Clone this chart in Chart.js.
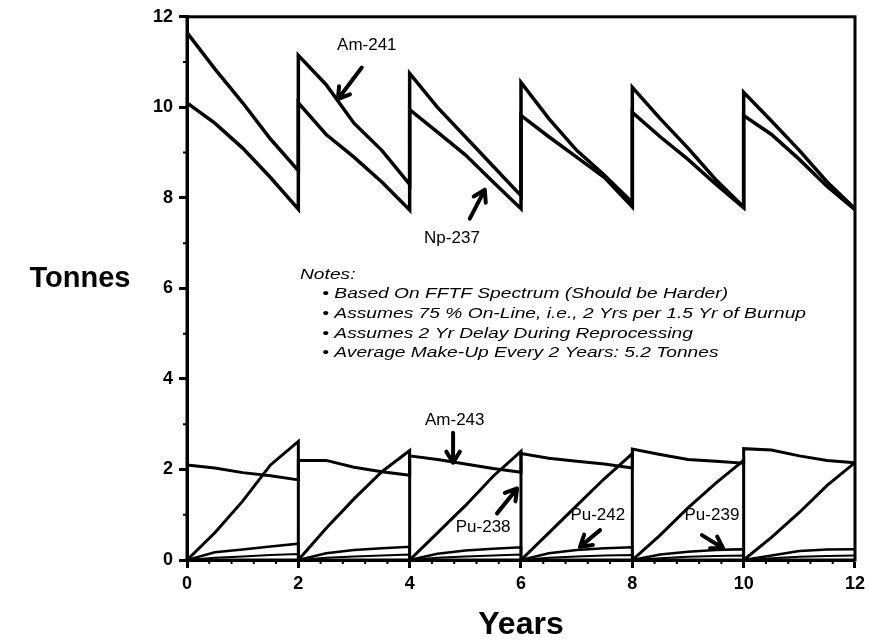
<!DOCTYPE html>
<html>
<head>
<meta charset="utf-8">
<script src="https://cdn.jsdelivr.net/npm/chart.js@4"></script>
<style>
  html, body { margin: 0; padding: 0; background: #fff; }
</style>
</head>
<body>
<canvas id="chart" width="870" height="642"></canvas>
<script>
// x positions shared by all series (each cycle restarts at the same year -> vertical jump)
const years = [0, 0.5, 1, 1.5, 2, 2, 2.5, 3, 3.5, 4, 4, 4.5, 5, 5.5, 6,
  6, 6.5, 7, 7.5, 8, 8, 8.5, 9, 9.5, 10, 10, 10.5, 11, 11.5, 12];

const am241 = [11.65, 10.85, 10.1, 9.3, 8.6, 11.15, 10.5, 9.65, 9.05, 8.3,
  10.75, 10.0, 9.35, 8.7, 8.05, 10.55, 9.75, 9.05, 8.5, 7.9,
  10.44, 9.75, 9.1, 8.4, 7.8, 10.33, 9.7, 9.05, 8.35, 7.76];
const np237 = [10.1, 9.65, 9.1, 8.45, 7.75, 10.1, 9.4, 8.9, 8.35, 7.73,
  9.95, 9.45, 8.95, 8.35, 7.76, 9.82, 9.35, 8.9, 8.45, 7.8,
  9.89, 9.35, 8.85, 8.3, 7.78, 9.82, 9.4, 8.85, 8.25, 7.74];
const am243 = [2.1, 2.03, 1.93, 1.86, 1.77, 2.2, 2.2, 2.05, 1.95, 1.87,
  2.3, 2.22, 2.12, 2.02, 1.94, 2.35, 2.25, 2.18, 2.12, 2.03,
  2.45, 2.33, 2.22, 2.18, 2.14, 2.46, 2.43, 2.3, 2.2, 2.15];
const pu238 = [0, 0.6, 1.3, 2.1, 2.62, 0, 0.7, 1.35, 1.95, 2.42,
  0, 0.6, 1.2, 1.85, 2.4, 0, 0.6, 1.2, 1.8, 2.35,
  0, 0.55, 1.15, 1.7, 2.2, 0, 0.5, 1.05, 1.65, 2.15];
const pu242 = [0, 0.17, 0.23, 0.3, 0.36, 0, 0.15, 0.22, 0.26, 0.29,
  0, 0.14, 0.21, 0.25, 0.28, 0, 0.15, 0.22, 0.26, 0.28,
  0, 0.12, 0.18, 0.22, 0.24, 0, 0.1, 0.2, 0.23, 0.24];
const pu239 = [0, 0.05, 0.08, 0.11, 0.13, 0, 0.05, 0.08, 0.1, 0.12,
  0, 0.05, 0.08, 0.1, 0.12, 0, 0.05, 0.08, 0.1, 0.11,
  0, 0.04, 0.07, 0.09, 0.1, 0, 0.04, 0.07, 0.09, 0.1];

const xTicks = [0, 2, 4, 6, 8, 10, 12];
const yTicks = [0, 2, 4, 6, 8, 10, 12];

// isotope labels and their arrows (data units)
const labelNames = ['Am-241', 'Np-237', 'Am-243', 'Pu-238', 'Pu-242', 'Pu-239'];
const labelX = [3.23, 4.76, 4.81, 5.32, 7.38, 9.43];
const labelY = [11.36, 7.1, 3.08, 0.73, 0.99, 0.99];
const arrowFromX = [3.14, 5.08, 4.78, 5.57, 7.42, 9.25];
const arrowFromY = [10.88, 7.54, 2.81, 1.03, 0.66, 0.55];
const arrowToX = [2.71, 5.35, 4.78, 5.93, 7.06, 9.63];
const arrowToY = [10.18, 8.18, 2.15, 1.58, 0.29, 0.26];

const notesTitle = 'Notes:';
const notes = [
  '\u2022 Based On FFTF Spectrum (Should be Harder)',
  '\u2022 Assumes 75 % On-Line, i.e., 2 Yrs per 1.5 Yr of Burnup',
  '\u2022 Assumes 2 Yr Delay During Reprocessing',
  '\u2022 Average Make-Up Every 2 Years: 5.2 Tonnes'
];

function series(label, vals, width) {
  return {
    label: label,
    data: years.map((x, i) => ({ x: x, y: vals[i] })),
    borderColor: '#000',
    borderWidth: width,
    pointRadius: 0,
    tension: 0,
    fill: false
  };
}

function drawArrow(ctx, x1, y1, x2, y2) {
  const ang = Math.atan2(y2 - y1, x2 - x1);
  const len = 13;
  ctx.beginPath();
  ctx.moveTo(x1, y1);
  ctx.lineTo(x2, y2);
  ctx.moveTo(x2 - len * Math.cos(ang - 0.55), y2 - len * Math.sin(ang - 0.55));
  ctx.lineTo(x2, y2);
  ctx.lineTo(x2 - len * Math.cos(ang + 0.55), y2 - len * Math.sin(ang + 0.55));
  ctx.stroke();
}

const decorations = {
  id: 'decorations',
  afterDraw(chart) {
    const ctx = chart.ctx;
    const xs = chart.scales.x, ys = chart.scales.y;
    const a = chart.chartArea;
    ctx.save();
    ctx.strokeStyle = '#000';
    ctx.fillStyle = '#000';

    // frame
    ctx.lineWidth = 3;
    ctx.strokeRect(a.left, a.top, a.right - a.left, a.bottom - a.top);

    // minor ticks
    ctx.lineWidth = 2;
    ctx.beginPath();
    for (let v = 1; v < 12; v += 2) {
      const py = ys.getPixelForValue(v);
      ctx.moveTo(a.left, py);
      ctx.lineTo(a.left - 4, py);
    }
    for (let k = 0; k < 30; k++) {
      if (k % 5 === 0) continue;
      const px = xs.getPixelForValue(k * 0.4);
      ctx.moveTo(px, a.bottom);
      ctx.lineTo(px, a.bottom + 4);
    }
    ctx.stroke();

    // isotope labels
    ctx.font = '17px "Liberation Sans", Arial, sans-serif';
    ctx.textAlign = 'center';
    ctx.textBaseline = 'middle';
    labelNames.forEach((name, i) => {
      ctx.fillText(name, xs.getPixelForValue(labelX[i]), ys.getPixelForValue(labelY[i]));
    });
    ctx.lineWidth = 4;
    ctx.lineCap = 'round';
    ctx.lineJoin = 'round';
    labelNames.forEach((name, i) => {
      drawArrow(ctx,
        xs.getPixelForValue(arrowFromX[i]), ys.getPixelForValue(arrowFromY[i]),
        xs.getPixelForValue(arrowToX[i]), ys.getPixelForValue(arrowToY[i]));
    });

    // notes block
    ctx.textAlign = 'left';
    ctx.font = 'italic 15px "Liberation Sans", Arial, sans-serif';
    const drawStretched = (txt, vx, vy) => {
      ctx.save();
      ctx.translate(xs.getPixelForValue(vx), ys.getPixelForValue(vy));
      ctx.scale(1.28, 1);
      ctx.fillText(txt, 0, 0);
      ctx.restore();
    };
    drawStretched(notesTitle, 2.03, 6.31);
    const noteY = [5.89, 5.43, 4.99, 4.57];
    notes.forEach((t, i) => drawStretched(t, 2.43, noteY[i]));

    // axis titles
    ctx.font = 'bold 29px "Liberation Sans", Arial, sans-serif';
    ctx.textAlign = 'center';
    ctx.fillText('Tonnes', a.left - 107, ys.getPixelForValue(6.2));
    ctx.font = 'bold 32px "Liberation Sans", Arial, sans-serif';
    ctx.fillText('Years', (a.left + a.right) / 2, a.bottom + 65);
    ctx.restore();
  }
};

new Chart(document.getElementById('chart'), {
  type: 'line',
  data: {
    datasets: [
      series('Am-241', am241, 3.5),
      series('Np-237', np237, 3.5),
      series('Am-243', am243, 3),
      series('Pu-238', pu238, 3),
      series('Pu-242', pu242, 2.5),
      series('Pu-239', pu239, 2)
    ]
  },
  options: {
    responsive: false,
    animation: false,
    layout: { padding: { left: 0, right: 15, top: 14, bottom: 0 } },
    plugins: { legend: { display: false }, tooltip: { enabled: false } },
    scales: {
      x: {
        type: 'linear',
        min: 0,
        max: 12,
        afterBuildTicks: s => { s.ticks = xTicks.map(v => ({ value: v })); },
        afterFit: s => { s.height = 82; },
        grid: { drawOnChartArea: false, tickLength: 8, tickWidth: 3, tickColor: '#000' },
        border: { color: '#000', width: 3 },
        ticks: {
          color: '#000',
          padding: 5,
          maxRotation: 0,
          font: { family: '"Liberation Sans", Arial, sans-serif', size: 18, weight: 'bold' }
        }
      },
      y: {
        min: 0,
        max: 12,
        afterBuildTicks: s => { s.ticks = yTicks.map(v => ({ value: v })); },
        afterFit: s => { s.width = 187; },
        grid: { drawOnChartArea: false, tickLength: 8, tickWidth: 3, tickColor: '#000' },
        border: { color: '#000', width: 3 },
        ticks: {
          color: '#000',
          padding: 6,
          font: { family: '"Liberation Sans", Arial, sans-serif', size: 18, weight: 'bold' }
        }
      }
    }
  },
  plugins: [decorations]
});
</script>
</body>
</html>
